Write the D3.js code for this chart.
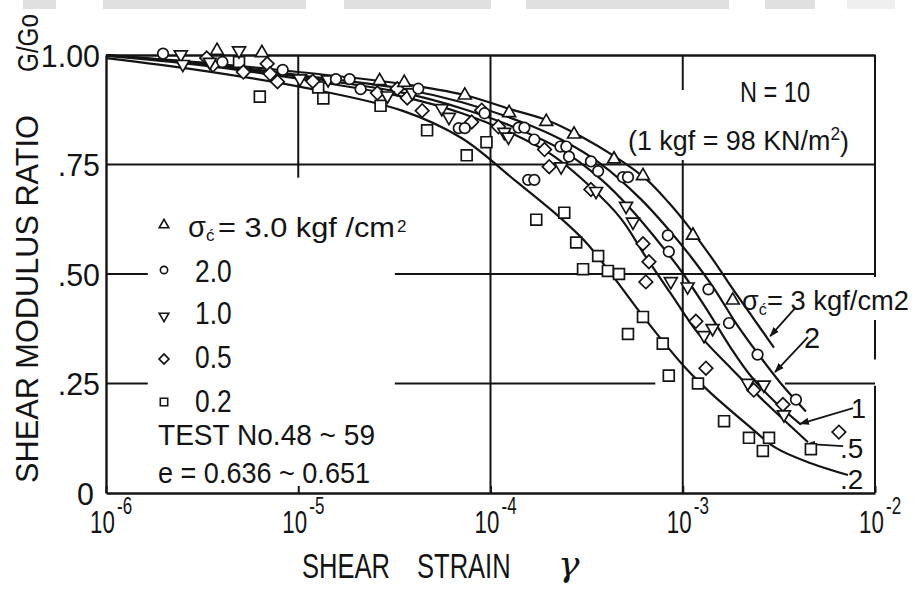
<!DOCTYPE html>
<html>
<head>
<meta charset="utf-8">
<script src="https://cdn.jsdelivr.net/npm/d3@7"></script>
<style>
  html, body { margin: 0; padding: 0; background: #fff; }
  svg { display: block; }
  text { font-family: "Liberation Sans", Arial, Helvetica, sans-serif; fill: #141414; }
</style>
</head>
<body>
<svg id="chart" width="917" height="589"></svg>
<script>
// ---- axis ticks -------------------------------------------------------
const strainTicks = [1e-6, 1e-5, 1e-4, 1e-3, 1e-2];
const strainTickExponents = ["-6", "-5", "-4", "-3", "-2"];
const ratioTicks = [1, 0.75, 0.5, 0.25, 0];
const ratioTickLabels = ["1.00", ".75", ".50", ".25", "0"];

// ---- confining pressure groups (kgf/cm2) -----------------------------
const pressureLabels = ["3.0", "2.0", "1.0", "0.5", "0.2"];
const curveEndLabels = ["3 kgf/cm2", "2", "1", ".5", ".2"];

// ---- measured G/G0 vs shear strain, one array per confining pressure --
const test30 = [
  [3.78e-6, 1.01], [6.47e-6, 1.005], [2.65e-5, 0.941], [3.56e-5, 0.937], [7.35e-5, 0.908],
  [1.25e-4, 0.868], [1.95e-4, 0.848], [2.72e-4, 0.819], [4.39e-4, 0.762], [6.21e-4, 0.724],
  [1.13e-3, 0.588], [1.82e-3, 0.44]
];
const test20 = [
  [1.98e-6, 1.003], [4.03e-6, 0.984], [8.3e-6, 0.966], [1.57e-5, 0.945], [1.85e-5, 0.945],
  [2.11e-5, 0.922], [4.21e-5, 0.923], [6.84e-5, 0.833], [7.35e-5, 0.833], [9.31e-5, 0.867],
  [1.4e-4, 0.834], [1.5e-4, 0.834], [1.57e-4, 0.715], [1.69e-4, 0.715], [1.69e-4, 0.807],
  [2.31e-4, 0.791], [2.48e-4, 0.791], [2.56e-4, 0.768], [3.33e-4, 0.757], [3.63e-4, 0.735],
  [4.89e-4, 0.721], [5.19e-4, 0.721], [8.36e-4, 0.588], [8.46e-4, 0.551], [1.36e-3, 0.465],
  [1.74e-3, 0.388], [2.45e-3, 0.316], [3.88e-3, 0.213]
];
const test10 = [
  [2.45e-6, 1.001], [2.51e-6, 0.979], [3.47e-6, 0.984], [4.92e-6, 1.01], [1.02e-5, 0.946],
  [1.43e-5, 0.944], [2.91e-5, 0.907], [3.92e-5, 0.914], [5.58e-5, 0.878], [6.08e-5, 0.858],
  [1.18e-4, 0.824], [1.24e-4, 0.813], [2.33e-4, 0.745], [3.54e-4, 0.689], [5.07e-4, 0.655],
  [5.51e-4, 0.619], [8.67e-4, 0.483], [1.06e-3, 0.471], [1.29e-3, 0.36], [1.43e-3, 0.376],
  [2.18e-3, 0.251], [2.64e-3, 0.247], [3.36e-3, 0.179]
];
const test05 = [
  [3.34e-6, 0.993], [3.6e-6, 0.977], [5.18e-6, 0.961], [6.89e-6, 0.98], [7.14e-6, 0.957],
  [7.8e-6, 0.939], [1.19e-5, 0.94], [2.58e-5, 0.913], [3.27e-5, 0.923], [3.69e-5, 0.902],
  [4.41e-5, 0.873], [7.98e-5, 0.847], [9.0e-5, 0.874], [1.1e-4, 0.836], [1.91e-4, 0.784],
  [2.02e-4, 0.745], [3.33e-4, 0.693], [6.21e-4, 0.569], [6.67e-4, 0.528], [6.43e-4, 0.482],
  [1.17e-3, 0.392], [1.32e-3, 0.285], [2.34e-3, 0.235], [3.32e-3, 0.202], [6.49e-3, 0.139]
];
const test02 = [
  [4.92e-6, 0.984], [6.31e-6, 0.905], [1.27e-5, 0.926], [1.35e-5, 0.901], [2.68e-5, 0.884],
  [4.68e-5, 0.828], [7.52e-5, 0.771], [9.53e-5, 0.801], [1.73e-4, 0.624], [2.42e-4, 0.64],
  [2.79e-4, 0.572], [3.63e-4, 0.541], [3.03e-4, 0.511], [4.08e-4, 0.507], [4.66e-4, 0.5],
  [5.19e-4, 0.363], [6.21e-4, 0.402], [7.87e-4, 0.341], [8.46e-4, 0.268], [1.2e-3, 0.25],
  [1.64e-3, 0.164], [2.21e-3, 0.126], [2.81e-3, 0.126], [2.61e-3, 0.096], [4.64e-3, 0.1]
];

// ---- fitted G/G0 curves -------------------------------------------------
const curve30 = [
  [1e-6, 1.0], [3.1e-6, 0.983], [1.06e-5, 0.96], [3.47e-5, 0.934], [7.4e-5, 0.908],
  [1.25e-4, 0.877], [2.0e-4, 0.85], [2.96e-4, 0.814], [4.4e-4, 0.769], [6.43e-4, 0.717],
  [8.45e-4, 0.663], [1.1e-3, 0.602], [1.43e-3, 0.534], [1.82e-3, 0.466], [2.32e-3, 0.40],
  [2.98e-3, 0.332]
];
const curve20 = [
  [1e-6, 1.0], [3.1e-6, 0.981], [1.06e-5, 0.953], [3.47e-5, 0.923], [7.1e-5, 0.892],
  [1.45e-4, 0.847], [2.33e-4, 0.807], [3.76e-4, 0.751], [6.05e-4, 0.671], [8.35e-4, 0.604],
  [1.1e-3, 0.54], [1.45e-3, 0.468], [1.89e-3, 0.388], [2.46e-3, 0.318], [3.24e-3, 0.25],
  [4.37e-3, 0.186]
];
const curve10 = [
  [1e-6, 1.0], [3.1e-6, 0.979], [1.06e-5, 0.949], [3.47e-5, 0.914], [7.1e-5, 0.878],
  [1.28e-4, 0.838], [2.33e-4, 0.784], [3.76e-4, 0.716], [5.38e-4, 0.648], [7.24e-4, 0.581],
  [9.77e-4, 0.508], [1.32e-3, 0.422], [1.78e-3, 0.331], [2.26e-3, 0.267], [3.05e-3, 0.206],
  [4.12e-3, 0.156]
];
const curve05 = [
  [1e-6, 0.998], [3.1e-6, 0.977], [1.06e-5, 0.944], [3.47e-5, 0.905], [7.1e-5, 0.867],
  [1.28e-4, 0.822], [2.07e-4, 0.773], [3.33e-4, 0.698], [4.78e-4, 0.626], [6.43e-4, 0.539],
  [8.67e-4, 0.455], [1.2e-3, 0.365], [1.78e-3, 0.285], [2.7e-3, 0.206], [4.48e-3, 0.116]
];
const curve02 = [
  [1e-6, 0.993], [3.1e-6, 0.965], [1.06e-5, 0.926], [3.47e-5, 0.873], [7.1e-5, 0.81],
  [1.33e-4, 0.715], [2.15e-4, 0.64], [3.14e-4, 0.572], [4.33e-4, 0.495], [5.7e-4, 0.425],
  [7.7e-4, 0.352], [1.04e-3, 0.284], [1.4e-3, 0.228], [2.18e-3, 0.155], [3.05e-3, 0.103],
  [4.64e-3, 0.068], [7.23e-3, 0.041]
];

// ---- leader arrows from the curve labels: [fromStrain, fromRatio, toStrain, toRatio]
const leaderArrows = [
  [3.84e-3, 0.422, 2.85e-3, 0.358],
  [4.48e-3, 0.356, 3.02e-3, 0.276],
  [7.69e-3, 0.194, 4.07e-3, 0.158],
  [6.83e-3, 0.107, 4.38e-3, 0.112]
];

// ---- grid segments: [ratio, fromStrain, toStrain] and [strain, fromRatio, toRatio]
const horizontalGrid = [
  [0.75, 1e-6, 1e-2],
  [0.5, 1e-6, 1.65e-6], [0.5, 3.18e-5, 1e-2],
  [0.25, 1e-6, 1.65e-6], [0.25, 3.18e-5, 7.2e-4], [0.25, 3.4e-3, 1e-2]
];
const verticalGrid = [
  [1e-5, 1, 0.72],
  [1e-4, 1, 0],
  [1e-3, 1, 0.92], [1e-3, 0.76, 0],
  [1e-2, 1, 0.493], [1e-2, 0.395, 0.305], [1e-2, 0.245, 0]
];

// =======================================================================
const ink = "#141414";
const svg = d3.select("#chart");

const x = d3.scaleLog().domain([1e-6, 1e-2]).range([106, 875]);
const y = d3.scaleLinear().domain([0, 1]).range([493, 55]);

// light page header strip along the top edge
const headerBlocks = [[23, 56], [103, 306], [344, 491], [526, 729], [765, 815], [847, 895]];
svg.append("g").selectAll("rect").data(headerBlocks).join("rect")
  .attr("x", d => d[0]).attr("y", 0)
  .attr("width", d => d[1] - d[0]).attr("height", 9)
  .attr("fill", (d, i) => i === 5 ? "#efefef" : "#e0e0e0");

// frame: bottom, left and top axis lines
const bottomAxis = d3.axisBottom(x).tickValues(strainTicks).tickSizeInner(-7).tickSizeOuter(0).tickFormat("");
svg.append("g").attr("transform", `translate(0,${y(0)})`).call(bottomAxis)
  .call(g => g.select(".domain").attr("stroke", ink).attr("stroke-width", 2.4))
  .call(g => g.selectAll(".tick line").attr("stroke", ink).attr("stroke-width", 2));
svg.append("g").attr("transform", `translate(${x(1e-6)},0)`)
  .call(d3.axisLeft(y).tickValues([]).tickSizeOuter(0))
  .call(g => g.select(".domain").attr("stroke", ink).attr("stroke-width", 2.4));
svg.append("g").attr("transform", `translate(0,${y(1)})`)
  .call(d3.axisTop(x).tickValues([]).tickSizeOuter(0))
  .call(g => g.select(".domain").attr("stroke", ink).attr("stroke-width", 2.4));

// grid lines (interrupted where the lettering sits)
const gridG = svg.append("g").attr("stroke", ink).attr("stroke-width", 2).attr("fill", "none");
gridG.selectAll("line.h").data(horizontalGrid).join("line").attr("class", "h")
  .attr("x1", d => x(d[1])).attr("x2", d => x(d[2]))
  .attr("y1", d => y(d[0])).attr("y2", d => y(d[0]));
gridG.selectAll("line.v").data(verticalGrid).join("line").attr("class", "v")
  .attr("x1", d => x(d[0])).attr("x2", d => x(d[0]))
  .attr("y1", d => y(d[1])).attr("y2", d => y(d[2]));

// fitted curves
const line = d3.line().x(d => x(d[0])).y(d => y(d[1])).curve(d3.curveCatmullRom.alpha(0.5));
const curves = [curve30, curve20, curve10, curve05, curve02];
svg.append("g").selectAll("path").data(curves).join("path")
  .attr("d", line).attr("fill", "none").attr("stroke", ink).attr("stroke-width", 2.2);

// leader arrows
svg.append("defs").append("marker")
  .attr("id", "arrowhead").attr("viewBox", "0 -4 10 8")
  .attr("refX", 9).attr("refY", 0).attr("markerWidth", 10).attr("markerHeight", 8)
  .attr("markerUnits", "userSpaceOnUse").attr("orient", "auto")
  .append("path").attr("d", "M0,-3.6L10,0L0,3.6Z").attr("fill", ink);
svg.append("g").selectAll("line").data(leaderArrows).join("line")
  .attr("x1", d => x(d[0])).attr("y1", d => y(d[1]))
  .attr("x2", d => x(d[2])).attr("y2", d => y(d[3]))
  .attr("stroke", ink).attr("stroke-width", 1.8).attr("marker-end", "url(#arrowhead)");

// marker shapes for each pressure group
const shapes = [
  { type: d3.symbolTriangle, rotate: 0, size: 72, legendSize: 40 },
  { type: d3.symbolCircle, rotate: 0, size: 88, legendSize: 42 },
  { type: d3.symbolTriangle, rotate: 180, size: 72, legendSize: 40 },
  { type: d3.symbolSquare, rotate: 45, size: 92, legendSize: 50 },
  { type: d3.symbolSquare, rotate: 0, size: 118, legendSize: 55 }
];
const tests = [test02, test05, test10, test20, test30];
const shapeOrder = [4, 3, 2, 1, 0];
tests.forEach((pts, k) => {
  const s = shapes[shapeOrder[k]];
  svg.append("g").selectAll("path").data(pts).join("path")
    .attr("d", d3.symbol().type(s.type).size(s.size))
    .attr("transform", d => `translate(${x(d[0])},${y(d[1])}) rotate(${s.rotate})`)
    .attr("fill", "#fff").attr("stroke", ink).attr("stroke-width", 1.7);
});

// ---- lettering --------------------------------------------------------
function label(px, py, str, size, opt = {}) {
  const t = svg.append("text")
    .attr("transform", `translate(${px},${py}) scale(${opt.sx || 1},1)`)
    .attr("font-size", size)
    .attr("text-anchor", opt.anchor || "start")
    .text(str);
  if (opt.len) t.attr("textLength", opt.len).attr("lengthAdjust", "spacingAndGlyphs");
  if (opt.italic) t.attr("font-style", "italic");
  if (opt.family) t.style("font-family", opt.family);
  return t;
}
// text built from runs: [string, fontSize, dx, dy]
function richLabel(px, py, runs, sx = 1) {
  const t = svg.append("text").attr("transform", `translate(${px},${py}) scale(${sx},1)`);
  runs.forEach(([str, size, dx, dy]) => {
    t.append("tspan").attr("font-size", size).attr("dx", dx || 0).attr("dy", dy || 0).text(str);
  });
  return t;
}

// y tick labels
ratioTicks.forEach((v, i) => label(v === 0 ? 94 : 100, y(v) + 11.5, ratioTickLabels[i], 32, { anchor: "end", sx: 0.95 }));

// x tick labels: 10 with a raised exponent
strainTicks.forEach((v, i) => {
  richLabel(x(v) - 16, 533, [["10", 31], [strainTickExponents[i], 17 / 0.72, 3, -19]], 0.72);
});

// axis titles
label(302, 578, "SHEAR", 35, { sx: 0.73 });
label(417, 578, "STRAIN", 35, { sx: 0.73 });
label(558, 576, "γ", 36, { italic: true, family: "'DejaVu Serif', serif" });

svg.append("text").attr("transform", "translate(38,483) rotate(-90)")
  .attr("font-size", 32).attr("textLength", 368).attr("lengthAdjust", "spacingAndGlyphs")
  .text("SHEAR MODULUS RATIO");
svg.append("text").attr("transform", "translate(38,72) rotate(-90)")
  .attr("font-size", 30).attr("textLength", 58).attr("lengthAdjust", "spacingAndGlyphs")
  .text("G/Go");

// legend
const legendRows = [225, 270, 316, 359, 402];
legendRows.forEach((ry, i) => {
  const s = shapes[i];
  svg.append("path")
    .attr("d", d3.symbol().type(s.type).size(s.legendSize)())
    .attr("transform", `translate(164,${ry}) rotate(${s.rotate})`)
    .attr("fill", "#fff").attr("stroke", ink).attr("stroke-width", 1.6);
});
// first row: σ'c = 3.0 kgf/cm2
richLabel(188, 237, [["σ", 29], ["ć", 17, 0, 4]]);
label(218, 237, "= " + pressureLabels[0] + " kgf /cm", 28, { len: 177 });
label(397, 232, "2", 17);
pressureLabels.slice(1).forEach((p, i) => label(195, [282, 324, 368, 412][i], p, 31, { sx: 0.85 }));
label(158, 445, "TEST  No.48 ~ 59", 30, { len: 217 });
label(158, 483, "e = 0.636 ~ 0.651", 30, { len: 212 });

// test conditions
label(740, 102, "N = 10", 30, { len: 70 });
richLabel(628, 150, [["(1 kgf = 98 KN/m", 28], ["2", 18, 0, -10], [")", 28, 0, 11]], 0.96);

// curve labels at the right-hand ends
richLabel(742, 310, [["σ", 27], ["ć", 16, 0, 5]]);
label(767, 310, "= " + curveEndLabels[0], 28, { len: 142 });
label(804, 348, curveEndLabels[1], 29);
label(851, 418, curveEndLabels[2], 27);
label(840, 458, curveEndLabels[3], 28);
label(840, 489, curveEndLabels[4], 28);
</script>
</body>
</html>
